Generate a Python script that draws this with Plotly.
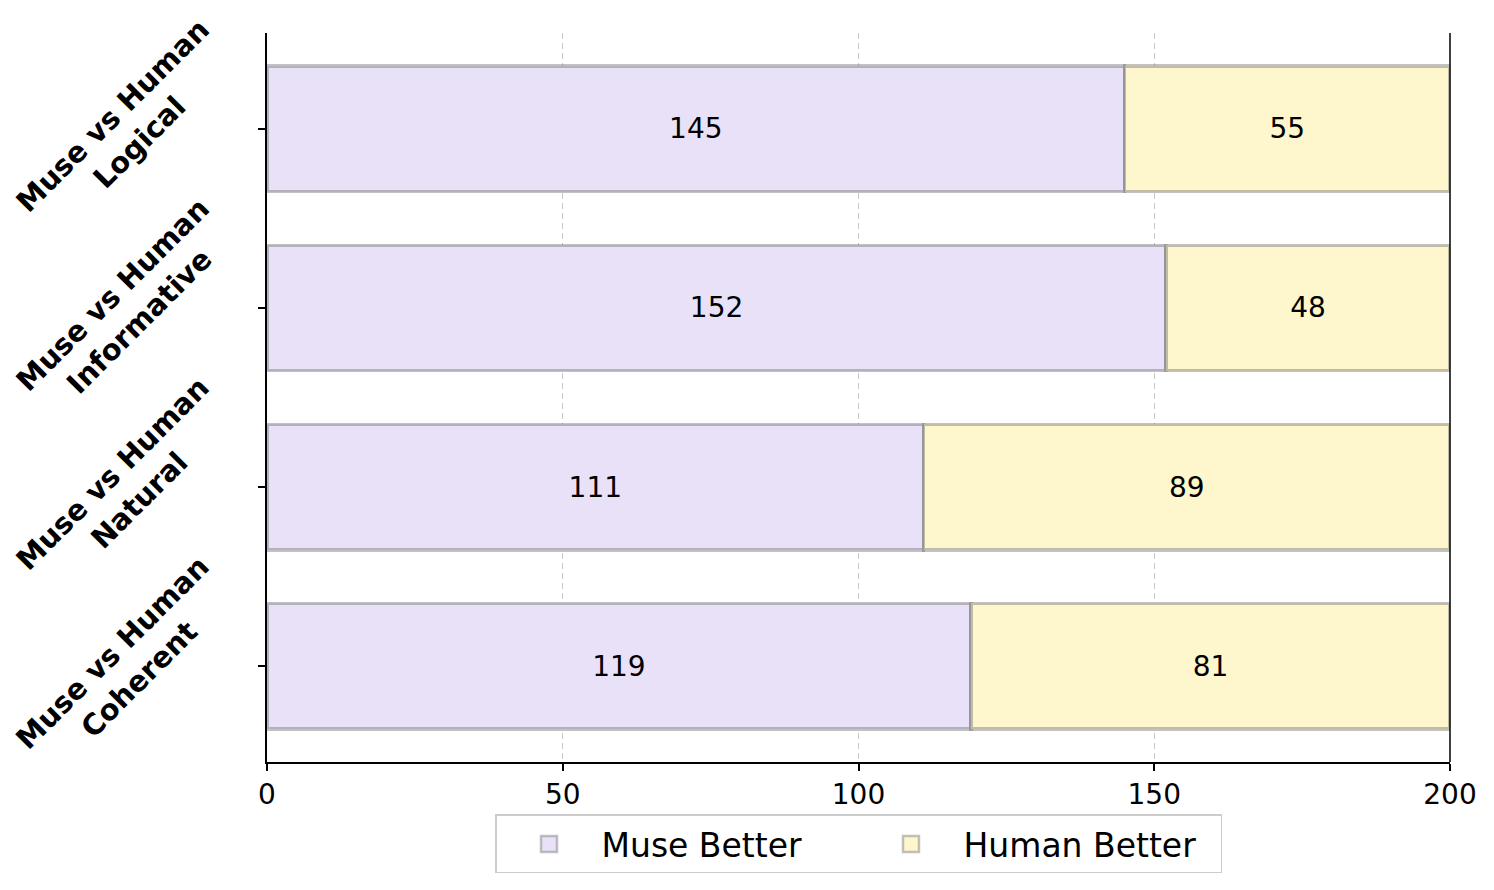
import plotly.graph_objects as go

# ── Data ─────────────────────────────────────────────────────────────────────
CATEGORIES = ["Logical", "Informative", "Natural", "Coherent"]
LABELS = [f"Muse vs Human<br>{c}" for c in CATEGORIES]
MUSE_BETTER = [145, 152, 111, 119]
HUMAN_BETTER = [55, 48, 89, 81]
X_TICKS = [0, 50, 100, 150, 200]

# ── Style ────────────────────────────────────────────────────────────────────
MUSE_COLOR = "#E8E1F8"
HUMAN_COLOR = "#FEF6CC"
EDGE = "rgba(110,110,110,0.42)"
FONT = "DejaVu Sans"

fig = go.Figure()
for name, vals, color in [
    ("Muse Better", MUSE_BETTER, MUSE_COLOR),
    ("Human Better", HUMAN_BETTER, HUMAN_COLOR),
]:
    fig.add_trace(go.Bar(
        y=CATEGORIES,
        x=vals,
        name=name,
        orientation="h",
        width=0.7,
        marker=dict(color=color, line=dict(color=EDGE, width=3.5)),
        texttemplate="%{x}",
        textposition="inside",
        insidetextanchor="middle",
        textfont=dict(size=28, color="black", family=FONT),
        constraintext="none",
        showlegend=False,
    ))
    # legend entry with a bigger swatch
    fig.add_trace(go.Scatter(
        x=[None], y=[None],
        mode="markers",
        name=name,
        marker=dict(symbol="square", size=28, color=color,
                    line=dict(color=EDGE, width=2.5)),
    ))

# rotated, bold category labels next to the y ticks
for cat, lab in zip(CATEGORIES, LABELS):
    fig.add_annotation(
        x=-0.018, xref="paper", xanchor="right",
        y=cat, yref="y", yanchor="middle",
        text=f"<b>{lab}</b>",
        textangle=-45,
        showarrow=False,
        align="center",
        font=dict(size=29, family=FONT, color="black"),
    )

# page body adds an 8px offset, so the figure is shrunk by that much
fig.update_layout(
    barmode="stack",
    width=1486,
    height=882,
    paper_bgcolor="white",
    plot_bgcolor="white",
    font=dict(family=FONT, color="black", size=28),
    margin=dict(l=259, r=44, t=25, b=128, autoexpand=False),
    showlegend=True,
    legend=dict(
        orientation="h",
        traceorder="normal",
        x=0.5, xanchor="center",
        y=-0.072, yanchor="top",
        font=dict(size=33, family=FONT),
        bordercolor="#CCCCCC",
        borderwidth=1.5,
        itemwidth=95,
        entrywidth=252,
    ),
)

fig.update_xaxes(
    range=[0, 200],
    tickvals=X_TICKS,
    ticks="outside",
    ticklen=7,
    tickwidth=1.5,
    tickcolor="black",
    showline=True,
    linecolor="black",
    linewidth=1.5,
    showgrid=True,
    gridcolor="#C8C8C8",
    griddash="6px,4px",
    gridwidth=1.2,
    zeroline=False,
    automargin=False,
    tickfont=dict(size=28),
)

fig.update_yaxes(
    categoryorder="array",
    categoryarray=CATEGORIES,
    range=[3.535, -0.535],
    ticks="outside",
    ticklen=7,
    tickwidth=1.5,
    tickcolor="black",
    showline=True,
    linecolor="black",
    linewidth=1.5,
    showgrid=False,
    showticklabels=False,
    automargin=False,
)

# right spine
fig.add_shape(
    type="line", xref="paper", yref="paper",
    x0=1, x1=1, y0=0, y1=1,
    line=dict(color="black", width=1.5),
)

fig.write_html("out.html")
